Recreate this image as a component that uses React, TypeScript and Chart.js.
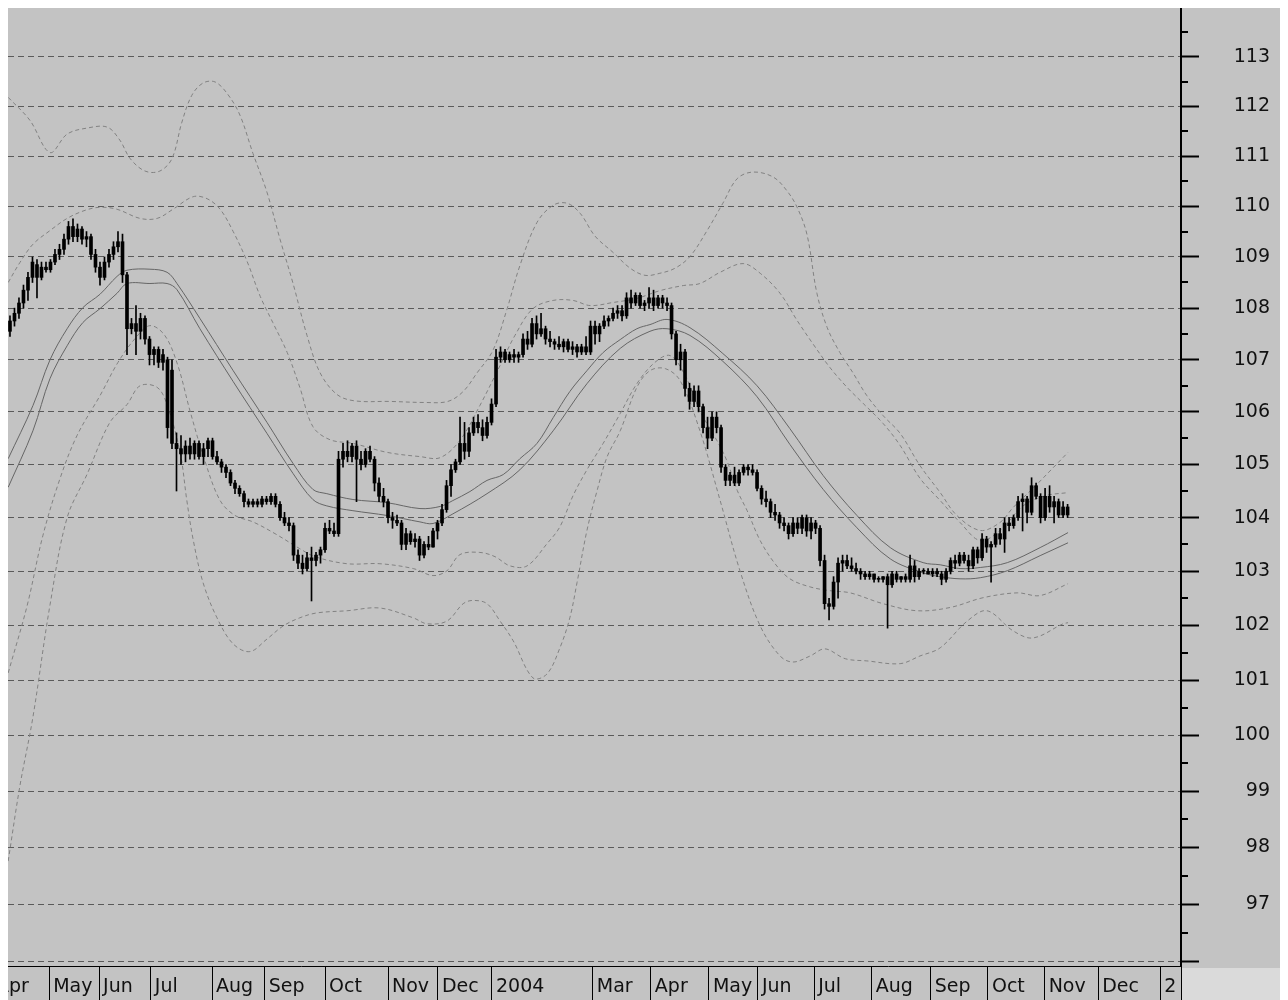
import React, { useEffect, useRef } from 'react';
import { Chart, registerables } from 'chart.js';

Chart.register(...registerables);

// ---- axis data ----
const X_MIN = -0.44;
const X_MAX = 260.2;
const monthTicks = [-4, 8.7, 19.8, 31.3, 44.9, 56.6, 70, 84, 95.1, 107.1, 129.5, 142.4, 155.3, 166.2, 178.7, 191.5, 204.6, 217.3, 229.9, 241.8, 255.6];
const monthLabels = ['Apr', 'May', 'Jun', 'Jul', 'Aug', 'Sep', 'Oct', 'Nov', 'Dec', '2004', 'Mar', 'Apr', 'May', 'Jun', 'Jul', 'Aug', 'Sep', 'Oct', 'Nov', 'Dec', '2'];
const Y_MIN = 95.93;
const Y_MAX = 114;
const yTicks = [96, 97, 98, 99, 100, 101, 102, 103, 104, 105, 106, 107, 108, 109, 110, 111, 112, 113];

// ---- price bars: [open, high, low, close] per trading bar ----
const ohlc: number[][] = [
  [107.55, 107.85, 107.45, 107.75], [107.75, 108.0, 107.65, 107.9], [107.9, 108.2, 107.8, 108.1], [108.1, 108.45, 108.0, 108.35],
  [108.35, 108.7, 108.15, 108.6], [108.6, 109.0, 108.5, 108.9], [108.85, 108.95, 108.2, 108.6], [108.6, 108.9, 108.55, 108.8],
  [108.8, 108.9, 108.7, 108.75], [108.75, 108.95, 108.7, 108.9], [108.9, 109.15, 108.85, 109.05], [109.05, 109.25, 108.95, 109.15],
  [109.15, 109.45, 109.05, 109.35], [109.35, 109.7, 109.25, 109.6], [109.6, 109.75, 109.3, 109.4], [109.4, 109.65, 109.3, 109.55],
  [109.55, 109.6, 109.25, 109.35], [109.35, 109.5, 109.2, 109.4], [109.4, 109.45, 108.95, 109.05], [109.05, 109.15, 108.7, 108.8],
  [108.8, 108.9, 108.45, 108.6], [108.6, 109.0, 108.55, 108.9], [108.9, 109.15, 108.8, 109.05], [109.05, 109.3, 108.95, 109.2],
  [109.2, 109.5, 109.1, 109.3], [109.3, 109.45, 108.5, 108.65], [108.65, 108.7, 107.1, 107.6], [107.6, 107.8, 107.5, 107.7],
  [107.7, 108.05, 107.1, 107.55], [107.55, 107.9, 107.4, 107.8], [107.8, 107.85, 107.3, 107.4], [107.4, 107.45, 106.9, 107.1],
  [107.1, 107.25, 106.9, 107.2], [107.2, 107.25, 106.85, 106.95], [106.95, 107.2, 106.8, 107.1], [107.0, 107.05, 105.5, 105.7],
  [106.8, 107.0, 105.3, 105.4], [105.4, 105.6, 104.5, 105.3], [105.3, 105.55, 105.0, 105.2], [105.2, 105.45, 105.05, 105.35],
  [105.35, 105.5, 105.1, 105.2], [105.2, 105.45, 105.1, 105.4], [105.4, 105.45, 105.1, 105.15], [105.15, 105.4, 105.0, 105.3],
  [105.3, 105.5, 105.15, 105.45], [105.45, 105.5, 105.1, 105.15], [105.15, 105.25, 105.0, 105.05], [105.05, 105.1, 104.85, 104.95],
  [104.95, 105.0, 104.75, 104.85], [104.85, 104.9, 104.6, 104.65], [104.65, 104.7, 104.45, 104.55], [104.55, 104.6, 104.4, 104.45],
  [104.45, 104.5, 104.2, 104.3], [104.3, 104.35, 104.2, 104.25], [104.25, 104.35, 104.2, 104.3], [104.3, 104.35, 104.2, 104.25],
  [104.25, 104.4, 104.2, 104.35], [104.35, 104.4, 104.25, 104.3], [104.3, 104.45, 104.25, 104.4], [104.4, 104.45, 104.2, 104.25],
  [104.25, 104.3, 103.95, 104.0], [104.0, 104.1, 103.85, 103.9], [103.9, 104.0, 103.75, 103.85], [103.85, 103.9, 103.2, 103.3],
  [103.3, 103.4, 103.05, 103.15], [103.15, 103.3, 102.95, 103.05], [103.05, 103.35, 103.0, 103.25], [103.25, 103.45, 102.45, 103.2],
  [103.2, 103.35, 103.1, 103.3], [103.3, 103.45, 103.15, 103.4], [103.4, 103.9, 103.35, 103.8], [103.8, 103.95, 103.7, 103.75],
  [103.75, 103.9, 103.65, 103.7], [103.7, 105.25, 103.65, 105.1], [105.1, 105.4, 104.95, 105.25], [105.25, 105.45, 105.05, 105.15],
  [105.15, 105.4, 105.05, 105.35], [105.35, 105.45, 104.3, 105.1], [105.1, 105.25, 104.9, 105.0], [105.0, 105.3, 104.95, 105.25],
  [105.25, 105.35, 105.05, 105.1], [105.1, 105.15, 104.5, 104.65], [104.65, 104.75, 104.3, 104.4], [104.4, 104.55, 104.2, 104.3],
  [104.3, 104.35, 103.9, 104.0], [104.0, 104.1, 103.8, 103.95], [103.95, 104.05, 103.85, 103.9], [103.9, 103.95, 103.4, 103.5],
  [103.5, 103.8, 103.4, 103.7], [103.7, 103.75, 103.5, 103.55], [103.55, 103.7, 103.45, 103.6], [103.6, 103.65, 103.2, 103.3],
  [103.3, 103.55, 103.25, 103.5], [103.5, 103.65, 103.4, 103.45], [103.45, 103.8, 103.45, 103.75], [103.75, 103.95, 103.6, 103.9],
  [103.9, 104.25, 103.85, 104.15], [104.15, 104.7, 104.1, 104.6], [104.6, 105.0, 104.4, 104.9], [104.9, 105.1, 104.85, 105.05],
  [105.05, 105.9, 105.0, 105.4], [105.4, 105.8, 105.1, 105.25], [105.25, 105.7, 105.15, 105.6], [105.6, 105.9, 105.55, 105.8],
  [105.8, 105.95, 105.6, 105.7], [105.7, 105.85, 105.45, 105.55], [105.55, 105.9, 105.5, 105.8], [105.8, 106.25, 105.75, 106.15],
  [106.15, 107.2, 106.1, 107.05], [107.05, 107.25, 106.95, 107.15], [107.15, 107.2, 106.95, 107.0], [107.0, 107.15, 106.95, 107.1],
  [107.1, 107.2, 106.95, 107.05], [107.05, 107.15, 106.95, 107.1], [107.1, 107.5, 107.05, 107.4], [107.4, 107.55, 107.2, 107.3],
  [107.3, 107.8, 107.25, 107.7], [107.7, 107.85, 107.4, 107.5], [107.5, 107.9, 107.45, 107.6], [107.6, 107.65, 107.3, 107.4],
  [107.4, 107.55, 107.25, 107.35], [107.35, 107.4, 107.2, 107.3], [107.3, 107.45, 107.2, 107.25], [107.25, 107.4, 107.15, 107.35],
  [107.35, 107.4, 107.15, 107.2], [107.2, 107.35, 107.1, 107.25], [107.25, 107.3, 107.05, 107.15], [107.15, 107.3, 107.1, 107.25],
  [107.25, 107.45, 107.1, 107.15], [107.15, 107.75, 107.1, 107.65], [107.65, 107.75, 107.3, 107.5], [107.5, 107.7, 107.35, 107.65],
  [107.65, 107.85, 107.6, 107.75], [107.75, 107.85, 107.65, 107.8], [107.8, 108.0, 107.75, 107.9], [107.9, 108.05, 107.8, 107.95],
  [107.95, 108.05, 107.75, 107.85], [107.85, 108.3, 107.8, 108.2], [108.2, 108.35, 108.0, 108.1], [108.1, 108.3, 108.05, 108.25],
  [108.25, 108.3, 108.0, 108.05], [108.05, 108.15, 107.95, 108.1], [108.1, 108.4, 108.0, 108.2], [108.2, 108.35, 107.95, 108.05],
  [108.05, 108.25, 108.0, 108.2], [108.2, 108.25, 108.0, 108.1], [108.1, 108.2, 107.95, 108.05], [108.05, 108.1, 107.4, 107.5],
  [107.5, 107.55, 106.9, 107.0], [107.0, 107.3, 106.8, 107.15], [107.15, 107.2, 106.3, 106.45], [106.45, 106.55, 106.05, 106.2],
  [106.2, 106.5, 106.1, 106.4], [106.4, 106.5, 106.0, 106.1], [106.1, 106.15, 105.6, 105.7], [105.7, 105.9, 105.3, 105.5],
  [105.5, 106.0, 105.45, 105.9], [105.9, 106.0, 105.6, 105.7], [105.7, 105.75, 104.85, 104.95], [104.95, 105.0, 104.6, 104.7],
  [104.7, 104.85, 104.6, 104.8], [104.8, 104.95, 104.6, 104.65], [104.65, 104.9, 104.6, 104.85], [104.85, 105.0, 104.8, 104.95],
  [104.95, 105.0, 104.8, 104.9], [104.9, 105.0, 104.8, 104.85], [104.85, 104.9, 104.5, 104.55], [104.55, 104.6, 104.25, 104.35],
  [104.35, 104.5, 104.2, 104.3], [104.3, 104.35, 104.0, 104.1], [104.1, 104.25, 103.95, 104.05], [104.05, 104.1, 103.8, 103.9],
  [103.9, 104.0, 103.75, 103.85], [103.85, 103.9, 103.6, 103.7], [103.7, 104.0, 103.65, 103.9], [103.9, 104.0, 103.7, 103.8],
  [103.8, 104.05, 103.7, 104.0], [104.0, 104.05, 103.65, 103.75], [103.75, 104.0, 103.6, 103.9], [103.9, 103.95, 103.7, 103.8],
  [103.8, 103.85, 103.1, 103.2], [103.2, 103.3, 102.3, 102.4], [102.4, 102.5, 102.1, 102.35], [102.35, 102.9, 102.3, 102.8],
  [102.8, 103.25, 102.5, 103.15], [103.15, 103.3, 103.0, 103.2], [103.2, 103.3, 103.05, 103.1], [103.1, 103.25, 103.0, 103.05],
  [103.05, 103.15, 102.95, 103.0], [103.0, 103.05, 102.85, 102.95], [102.95, 103.0, 102.85, 102.9], [102.9, 103.0, 102.85, 102.95],
  [102.95, 102.95, 102.8, 102.85], [102.85, 102.9, 102.8, 102.85], [102.85, 102.9, 102.8, 102.9], [102.9, 102.95, 101.95, 102.75],
  [102.75, 103.0, 102.7, 102.95], [102.95, 103.0, 102.8, 102.85], [102.85, 102.9, 102.8, 102.9], [102.9, 102.95, 102.8, 102.85],
  [102.85, 103.3, 102.8, 103.1], [103.1, 103.2, 102.8, 102.9], [102.9, 103.05, 102.85, 103.0], [103.0, 103.05, 102.95, 103.0],
  [103.0, 103.05, 102.95, 102.95], [102.95, 103.05, 102.9, 103.0], [103.0, 103.05, 102.9, 102.95], [102.95, 103.0, 102.75, 102.85],
  [102.85, 103.05, 102.8, 103.0], [103.0, 103.25, 102.95, 103.2], [103.2, 103.3, 103.05, 103.15], [103.15, 103.35, 103.1, 103.3],
  [103.3, 103.35, 103.15, 103.2], [103.2, 103.3, 103.0, 103.1], [103.1, 103.45, 103.05, 103.4], [103.4, 103.45, 103.15, 103.25],
  [103.25, 103.7, 103.2, 103.6], [103.6, 103.65, 103.35, 103.45], [103.45, 103.55, 102.8, 103.5], [103.5, 103.8, 103.45, 103.7],
  [103.7, 103.8, 103.5, 103.6], [103.6, 104.0, 103.35, 103.9], [103.9, 104.0, 103.75, 103.85], [103.85, 104.05, 103.8, 104.0],
  [104.0, 104.4, 103.95, 104.3], [104.3, 104.45, 103.75, 104.35], [104.35, 104.4, 103.9, 104.1], [104.1, 104.75, 104.05, 104.6],
  [104.6, 104.65, 104.35, 104.4], [104.4, 104.45, 103.9, 104.0], [104.0, 104.55, 103.95, 104.4], [104.4, 104.6, 104.1, 104.2],
  [104.2, 104.4, 103.9, 104.3], [104.3, 104.35, 104.0, 104.05], [104.05, 104.3, 104.0, 104.2], [104.2, 104.25, 104.0, 104.05],
];

// ---- moving-average envelope (solid) : [bar index, value] ----
const maUpper: number[][] = [
  [-0.4, 105.11], [5.1, 106.12], [8.9, 107.0], [12.7, 107.6], [16.2, 108.01], [20, 108.27], [23.8, 108.62], [26, 108.74],
  [31.1, 108.76], [34.9, 108.7], [37.1, 108.48], [42.2, 107.8], [49.6, 106.79], [57.1, 105.8], [62.9, 105.02], [67.3, 104.53],
  [70.4, 104.45], [76.2, 104.34], [83.8, 104.28], [91.1, 104.17], [95.6, 104.21], [98.4, 104.32], [102.2, 104.49], [106, 104.7],
  [109.6, 104.81], [113.3, 105.11], [117.1, 105.4], [120.7, 105.89], [124.4, 106.39], [128.2, 106.79], [131.8, 107.14],
  [135.6, 107.39], [139.3, 107.6], [142.2, 107.68], [146, 107.78], [151.1, 107.62], [158.4, 107.12], [166, 106.5],
  [173.3, 105.68], [180.7, 104.79], [188.2, 104.04], [195.6, 103.44], [202.9, 103.16], [206.7, 103.12], [211.1, 103.05],
  [215.6, 103.07], [221.6, 103.16], [228.9, 103.44], [235.1, 103.72],
];
const maLower: number[][] = [
  [-0.4, 104.57], [5.1, 105.64], [8.9, 106.64], [12.7, 107.27], [16.2, 107.72], [20, 107.99], [23.8, 108.29], [26, 108.48],
  [31.1, 108.48], [34.9, 108.48], [37.1, 108.36], [42.2, 107.6], [49.6, 106.58], [57.1, 105.59], [62.9, 104.83], [67.3, 104.34],
  [70.4, 104.22], [76.2, 104.13], [83.8, 104.04], [91.1, 103.92], [94, 103.89], [98.4, 104.07], [106, 104.45], [113.3, 104.9],
  [120.7, 105.64], [128.2, 106.54], [135.6, 107.22], [142.2, 107.55], [146, 107.6], [151.1, 107.47], [158.4, 106.97],
  [166, 106.29], [173.3, 105.38], [180.7, 104.53], [188.2, 103.81], [195.6, 103.23], [202.9, 102.97], [206.7, 102.9],
  [211.1, 102.86], [215.6, 102.88], [221.6, 103.01], [228.9, 103.29], [235.1, 103.53],
];

// ---- volatility bands (dashed) : [bar index, value] ----
const bandOuterUpper: number[][] = [
  [-0.4, 112.18], [4.4, 111.72], [8.9, 111.07], [12.7, 111.44], [17.1, 111.56], [21.6, 111.58], [24.4, 111.32], [26.7, 110.95],
  [30, 110.7], [33.3, 110.7], [36, 110.95], [38.2, 111.68], [40.4, 112.22], [42.9, 112.47], [45.6, 112.49], [48.4, 112.24],
  [51.1, 111.82], [54, 111.05], [57.1, 110.28], [60, 109.35], [62.9, 108.48], [66, 107.47], [68.9, 106.75], [72.7, 106.33],
  [76.7, 106.21], [84.4, 106.2], [92.2, 106.18], [97.3, 106.2], [100.7, 106.39], [103.8, 106.75], [107.3, 107.18],
  [110.4, 107.97], [113.3, 108.83], [117.1, 109.68], [120.7, 110.02], [123.8, 110.06], [126.7, 109.86], [130, 109.41],
  [134, 109.09], [137.8, 108.78], [141.1, 108.64], [144.4, 108.68], [147.8, 108.78], [151.1, 109.01], [154.9, 109.52],
  [158.4, 110.06], [161.6, 110.55], [165.1, 110.68], [169.6, 110.58], [172.7, 110.3], [174.9, 109.98], [177.1, 109.44],
  [179.3, 108.29], [181.6, 107.62], [184.4, 107.14], [187.3, 106.75], [190.4, 106.31], [194, 105.93], [197.8, 105.59],
  [202.2, 104.98], [206.7, 104.47], [210.4, 104.04], [215.6, 103.76], [220, 103.91], [222.9, 104.19], [227.3, 104.55],
  [231.8, 104.94], [235.1, 105.23],
];
const bandInnerUpper: number[][] = [
  [-0.4, 108.5], [2.2, 108.89], [5.1, 109.25], [8.9, 109.52], [12.7, 109.76], [16.7, 109.92], [20, 109.98], [23.8, 109.94],
  [28.9, 109.76], [32.7, 109.76], [36.2, 109.94], [40.7, 110.19], [43.8, 110.15], [46.7, 109.94], [49.6, 109.5], [52.7, 108.91],
  [55.6, 108.23], [58.4, 107.72], [61.6, 107.14], [64.4, 106.47], [67.3, 105.72], [71.1, 105.47], [76.2, 105.4], [83.8, 105.23],
  [91.1, 105.15], [95.6, 105.13], [100, 105.46], [104.4, 106.12], [108.9, 106.89], [112.2, 107.47], [116.2, 107.99],
  [120.7, 108.15], [125.1, 108.15], [128.9, 108.05], [134, 108.11], [139.3, 108.19], [144.4, 108.34], [149.6, 108.44],
  [153.3, 108.48], [157.8, 108.7], [162.9, 108.87], [166.7, 108.68], [171.1, 108.29], [174.9, 107.76], [178.4, 107.31],
  [182.2, 106.85], [186, 106.47], [189.6, 106.16], [194, 105.78], [197.8, 105.36], [202.2, 104.74], [206.7, 104.32],
  [211.1, 103.91], [215.6, 103.57], [220, 103.76], [225.1, 104.22], [230, 104.41], [235.1, 104.47],
];
const bandInnerLower: number[][] = [
  [-0.4, 101.13], [3.8, 102.36], [7.3, 103.66], [11.1, 104.73], [14.9, 105.55], [20, 106.31], [24, 106.95], [27.8, 107.41],
  [31.1, 107.66], [34.4, 107.47], [37.3, 106.89], [40, 106.02], [43.3, 105.07], [46.7, 104.32], [50, 104.04], [54, 103.92],
  [58.9, 103.7], [64.4, 103.42], [67.8, 103.27], [74.9, 103.14], [82.2, 103.14], [89.6, 103.05], [94, 102.92], [97.1, 103.01],
  [100, 103.31], [104.4, 103.35], [107.8, 103.27], [111.1, 103.1], [114.9, 103.1], [119.3, 103.51], [122.2, 103.83],
  [125.1, 104.41], [128.2, 104.9], [131.8, 105.4], [135.6, 105.97], [139.3, 106.54], [143.3, 106.95], [146.7, 107.08],
  [150, 106.7], [153.3, 106.02], [157.1, 105.45], [159.3, 105.07], [161.6, 104.51], [163.8, 104.13], [166.7, 103.57],
  [170, 103.14], [173.3, 102.86], [177.8, 102.71], [182.2, 102.64], [186.7, 102.6], [194, 102.4], [201.6, 102.27],
  [208.9, 102.33], [216.2, 102.51], [223.8, 102.6], [228.9, 102.55], [235.1, 102.77],
];
const bandOuterLower: number[][] = [
  [-0.4, 97.76], [2.2, 99.09], [5.1, 100.33], [8.9, 102.38], [12.7, 104.0], [17.1, 104.81], [22.2, 105.8], [26, 106.14],
  [28.9, 106.5], [32.7, 106.47], [34.9, 106.14], [37.8, 105.23], [39.3, 104.32], [40.7, 103.59], [42.9, 102.79], [46, 102.14],
  [49.6, 101.66], [53.3, 101.52], [57.1, 101.75], [60.7, 101.99], [64.4, 102.14], [68.2, 102.23], [74.9, 102.27], [82.2, 102.32],
  [89.6, 102.14], [92.7, 102.03], [97.1, 102.08], [100.7, 102.4], [102.9, 102.46], [106, 102.4], [108.9, 102.08],
  [111.8, 101.72], [116.2, 101.04], [119.3, 101.11], [122.2, 101.59], [124.4, 102.14], [126, 102.79], [128.2, 103.76],
  [130.4, 104.49], [132.7, 105.15], [135.6, 105.64], [139.3, 106.47], [142.2, 106.79], [145.6, 106.83], [148.9, 106.6],
  [153.3, 105.64], [157.8, 104.32], [162.2, 103.01], [166.7, 101.99], [171.1, 101.44], [174, 101.33], [177.8, 101.44],
  [181.1, 101.57], [185.6, 101.39], [190.4, 101.35], [197.8, 101.3], [202.2, 101.44], [206.7, 101.59], [212.7, 102.08],
  [217.1, 102.27], [222.9, 101.9], [227.3, 101.77], [234, 102.03], [235.1, 102.05],
];

const FONT = { family: 'DejaVu Sans', size: 19 };
const BG = '#c3c3c3';

const toPts = (arr: number[][]) => arr.map(([x, y]) => ({ x, y }));

const backgroundPlugin = {
  id: 'bgAndMinor',
  beforeDraw(chart: any) {
    const { ctx, chartArea } = chart;
    ctx.save();
    ctx.fillStyle = BG;
    ctx.fillRect(0, 0, chart.width, chart.height);
    ctx.fillStyle = '#dadada';
    ctx.fillRect(chartArea.right + 1, chartArea.bottom + 2, chart.width - chartArea.right, chart.height - chartArea.bottom);
    ctx.restore();
  },
  afterDraw(chart: any) {
    const { ctx, chartArea } = chart;
    const y = chart.scales.y;
    ctx.save();
    ctx.strokeStyle = '#000';
    ctx.lineWidth = 2;
    yTicks.forEach((v) => {
      const py = Math.round(y.getPixelForValue(v + 0.5));
      if (py < chartArea.top) return;
      ctx.beginPath();
      ctx.moveTo(chartArea.right, py);
      ctx.lineTo(chartArea.right + 7, py);
      ctx.stroke();
    });
    ctx.restore();
  },
};

export default function App() {
  const ref = useRef<HTMLCanvasElement>(null);

  useEffect(() => {
    const bodies = ohlc.map(([o, , , c], i) => ({ x: i, y: [Math.min(o, c), Math.max(o, c)] }));
    const wicks = ohlc.map(([, h, l], i) => ({ x: i, y: [l, h] }));
    const lineDs = (data: number[][], color: string, dash: number[], order: number) => ({
      type: 'line' as const,
      data: toPts(data) as any,
      borderColor: color,
      borderWidth: 1,
      borderDash: dash,
      pointRadius: 0,
      tension: 0.35,
      fill: false,
      order,
    });

    const chart = new Chart(ref.current!, {
      type: 'bar',
      data: {
        datasets: [
          lineDs(bandOuterUpper, '#828282', [4, 3], 3),
          lineDs(bandInnerUpper, '#828282', [4, 3], 3),
          lineDs(bandInnerLower, '#828282', [4, 3], 3),
          lineDs(bandOuterLower, '#828282', [4, 3], 3),
          lineDs(maUpper, '#666666', [], 2),
          lineDs(maLower, '#666666', [], 2),
          {
            type: 'bar',
            data: wicks as any,
            backgroundColor: '#000',
            borderWidth: 0,
            barThickness: 1,
            grouped: false,
            order: 1,
          },
          {
            type: 'bar',
            data: bodies as any,
            backgroundColor: '#000',
            borderWidth: 0,
            barThickness: 3,
            minBarLength: 1,
            grouped: false,
            order: 0,
          },
        ] as any,
      },
      options: {
        responsive: false,
        animation: false,
        events: [],
        layout: { padding: { left: 0, top: 0, right: 10, bottom: 0 } },
        plugins: { legend: { display: false }, tooltip: { enabled: false } },
        scales: {
          x: {
            type: 'linear',
            min: X_MIN,
            max: X_MAX,
            bounds: 'data',
            offset: false,
            afterBuildTicks: (s: any) => {
              s.ticks = [...monthTicks, X_MAX].map((v) => ({ value: v }));
            },
            afterFit: (s: any) => {
              s.height = 34;
              s.paddingLeft = 0;
              s.paddingRight = 0;
            },
            ticks: {
              autoSkip: false,
              maxRotation: 0,
              minRotation: 0,
              align: 'start',
              labelOffset: 4,
              padding: -24,
              color: '#111',
              font: FONT,
              callback: (_v: any, i: number) => monthLabels[i] ?? '',
            },
            grid: {
              display: true,
              offset: false,
              drawOnChartArea: false,
              drawTicks: true,
              tickLength: 34,
              tickColor: '#000',
              tickWidth: 1,
            },
            border: { display: true, color: '#000', width: 1 },
          },
          y: {
            type: 'logarithmic',
            position: 'right',
            min: Y_MIN,
            max: Y_MAX,
            bounds: 'data',
            afterBuildTicks: (s: any) => {
              s.ticks = yTicks.map((v) => ({ value: v }));
            },
            afterFit: (s: any) => {
              s.width = 89;
              s.paddingTop = 0;
              s.paddingBottom = 0;
            },
            ticks: {
              autoSkip: false,
              crossAlign: 'far',
              padding: 35,
              color: '#111',
              font: FONT,
              callback: (v: any) => (v === 96 ? '' : String(v)),
            },
            grid: {
              color: '#5a5a5a',
              lineWidth: 1,
              drawOnChartArea: true,
              drawTicks: true,
              tickLength: 18,
              tickColor: '#000',
              tickWidth: 2,
            },
            border: { display: true, color: '#000', width: 2, dash: [6, 4] },
          },
        },
      } as any,
      plugins: [backgroundPlugin],
    });
    return () => chart.destroy();
  }, []);

  return (
    <canvas ref={ref} width={1272} height={992} style={{ display: 'block', width: 1272, height: 992 }} />
  );
}
